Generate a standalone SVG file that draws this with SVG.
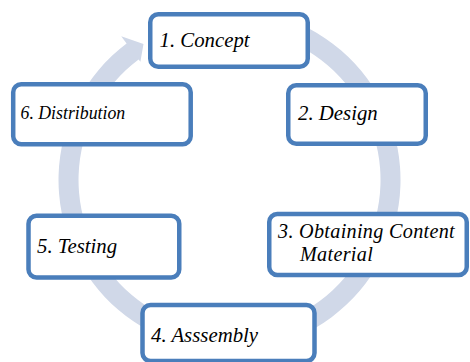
<svg xmlns="http://www.w3.org/2000/svg" width="470" height="362" viewBox="0 0 470 362">
  <style>
    .step rect { fill: #ffffff; stroke: #4a7ebb; stroke-width: 4.5; }
    .step text { font-family: "Liberation Serif", "Times New Roman", serif; font-style: italic; font-size: 20.8px; fill: #000000; }
    .ring { fill: #d0d8e8; stroke: none; }
  </style>
  <rect width="470" height="362" fill="#ffffff"/>

  <!-- circular arrow running clockwise behind the steps -->
  <g id="connectors">
    <path class="ring" d="M 273.8 14.8 A 171 171 0 1 1 126.6 43.4 L 121.2 36.3 L 143.5 43.9 L 140.4 61.8 L 138.6 59.4 A 151 151 0 1 0 268.6 34.1 Z"/>
  </g>

  <g id="step1" class="step">
    <rect x="150.25" y="14.25" width="157.5" height="52.5" rx="8"/>
    <text x="159.5" y="46.7">1. Concept</text>
  </g>

  <g id="step2" class="step">
    <rect x="288.25" y="85.25" width="137.5" height="58.5" rx="8"/>
    <text x="298" y="120">2. Design</text>
  </g>

  <g id="step3" class="step">
    <rect x="269.25" y="214" width="197.5" height="61" rx="8"/>
    <text style="font-size:20.2px; letter-spacing:0.3px"><tspan x="278" y="238.3">3. Obtaining Content</tspan><tspan x="300" y="261">Material</tspan></text>
  </g>

  <g id="step4" class="step">
    <rect x="142.5" y="305" width="172" height="56" rx="8"/>
    <text x="151" y="342">4. Asssembly</text>
  </g>

  <g id="step5" class="step">
    <rect x="28.5" y="215.75" width="150.75" height="61.75" rx="8"/>
    <text x="37" y="252.7">5. Testing</text>
  </g>

  <g id="step6" class="step">
    <rect x="13.2" y="84.2" width="177.5" height="60" rx="8"/>
    <text x="20.5" y="119" style="font-size:17.8px">6. Distribution</text>
  </g>
</svg>
